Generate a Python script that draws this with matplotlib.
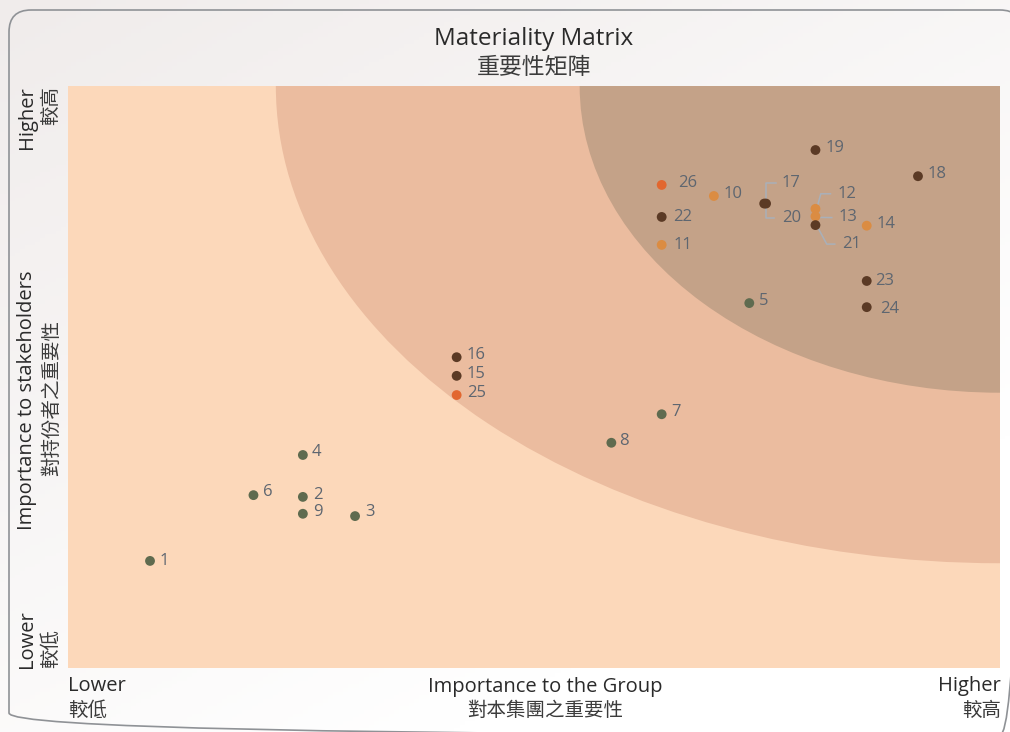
import numpy as np
import matplotlib
matplotlib.use('Agg')
import matplotlib.pyplot as plt
from matplotlib.patches import Ellipse, FancyBboxPatch
from matplotlib.colors import LinearSegmentedColormap

W, H = 1010, 732
EN = ['Open Sans', 'Noto Sans CJK TC']
ZH = ['Noto Sans CJK TC', 'DejaVu Sans']
plt.rcParams['font.family'] = EN

# issues: importance to group (x) / to stakeholders (y), 0-100 scale
issue_ids = [str(i) for i in range(1, 27)]
group_score = [8.8, 25.2, 30.8, 25.2, 73.1, 19.9, 63.7, 58.3, 25.2, 69.3,
               63.7, 80.2, 80.2, 85.7, 41.7, 41.7, 74.7, 91.2, 80.2, 74.9,
               80.2, 63.7, 85.7, 85.7, 41.7, 63.7]
stake_score = [18.4, 29.4, 26.1, 36.6, 62.7, 29.7, 43.6, 38.7, 26.5, 81.1,
               72.7, 78.9, 77.6, 76.0, 50.2, 53.4, 79.8, 84.5, 89.0, 79.8,
               76.1, 77.5, 66.5, 62.0, 46.9, 83.0]
issue_cat = ['E'] * 9 + ['S'] * 5 + ['G'] * 10 + ['O'] * 2
cat_colors = {'E': '#5F6B4F', 'S': '#DB8C42', 'G': '#5B3A25', 'O': '#E2672F'}

# tiers: quarter ellipses anchored at the top-right corner (radii in score units)
tier_radii = [(77.7, 82.0), (45.1, 52.7)]
tier_colors = ['#EBBC9F', '#C4A288']
tier_names = [('Tier 1', '第一層'), ('Tier 2', '第二層'), ('Tier 3', '第三層')]

# label offsets in pixels (right, up); default for all others
label_off = {'26': (16, 2), '24': (13, -2), '11': (12, 0), '22': (11, 0),
             '23': (8, 0), '8': (8, 2), '4': (9, 3), '6': (10, 3), '3': (10, 4),
             '1': (10, 0), '17': (17.5, 20.5), '20': (16, -14.2),
             '12': (22, 15), '13': (23.3, -0.5), '21': (27, -19)}
leaders = {'17': [(11.7, 20.2), (2, 20.2), (2, -14.8), (10, -14.8)],
           '12': [(1, -1), (5.3, 15), (15, 15)],
           '13': [(1, -1), (16.3, -1.2)],
           '21': [(1, 0), (11.3, -19), (19.3, -19)]}

fig = plt.figure(figsize=(W / 100, H / 100), dpi=100)

# background layer in pixel coordinates
bg = fig.add_axes([0, 0, 1, 1], zorder=0)
bg.set_xlim(0, W)
bg.set_ylim(H, 0)
bg.axis('off')
gx, gy = np.meshgrid(np.linspace(0, 1, 200), np.linspace(0, 1, 200))
grad = np.clip(0.55 * gx + 0.75 * gy, 0, 1)
cmap = LinearSegmentedColormap.from_list('bgc', ['#F0ECEB', '#FFFFFF'])
bg.imshow(grad, extent=(0, W, H, 0), cmap=cmap, aspect='auto', zorder=0)
bg.add_patch(FancyBboxPatch((9, 10), 1013, 725, boxstyle='round,pad=0,rounding_size=22',
                            fc='none', ec='#8F9296', lw=1.2, zorder=1))

# main matrix
ax = fig.add_axes([68 / W, (H - 668) / H, 932 / W, 582 / H], zorder=1)
ax.set_xlim(0, 100)
ax.set_ylim(0, 100)
ax.set_facecolor('#FCD8BA')
for s in ax.spines.values():
    s.set_visible(False)
ax.set_xticks([])
ax.set_yticks([])
for (rx, ry), c in zip(tier_radii, tier_colors):
    ax.add_patch(Ellipse((100, 100), 2 * rx, 2 * ry, fc=c, ec='none', zorder=1))

ax.scatter(group_score, stake_score, s=50, c=[cat_colors[k] for k in issue_cat],
           linewidths=0, zorder=3)

to_bg = ax.transData + bg.transData.inverted()
for i, lab in enumerate(issue_ids):
    dx, dy = label_off.get(lab, (10, 2))
    ax.annotate(lab, (group_score[i], stake_score[i]), xytext=(dx, dy),
                textcoords='offset pixels', ha='left', va='center',
                fontsize=12, color='#5E6670', zorder=4)
    if lab in leaders:
        px, py = to_bg.transform((group_score[i], stake_score[i]))
        xs = [px + ox for ox, oy in leaders[lab]]
        ys = [py - oy for ox, oy in leaders[lab]]
        ax.plot(xs, ys, color='#A9B0B9', lw=1.1, transform=bg.transData, zorder=2)

# tier labels
for (en, zh), yc in zip(tier_names, [354, 510, 606]):
    bg.text(934, yc, en, ha='center', va='center', fontsize=10.5, color='#484848',
            family=['Liberation Sans'], zorder=5)
    bg.text(934, yc + 19, zh, ha='center', va='center', fontsize=10, color='#484848',
            family=ZH, fontweight='light', zorder=5)

# titles and axis texts
zkw = dict(color='#3C3C3C', family=ZH, fontweight='light')
bg.text(534, 39, 'Materiality Matrix', ha='center', va='center', fontsize=17.5, color='#2A2A2A')
bg.text(534, 68, '重要性矩陣', ha='center', va='center', fontsize=16.5, **zkw)

bg.text(68, 686, 'Lower', ha='left', va='center', fontsize=14.5, color='#2A2A2A')
bg.text(68, 710, '較低', ha='left', va='center', fontsize=14, **zkw)
bg.text(545, 687, 'Importance to the Group', ha='center', va='center', fontsize=14.5, color='#2A2A2A')
bg.text(545, 710, '對本集團之重要性', ha='center', va='center', fontsize=14, **zkw)
bg.text(1001, 686, 'Higher', ha='right', va='center', fontsize=14.5, color='#2A2A2A')
bg.text(1001, 710, '較高', ha='right', va='center', fontsize=14, **zkw)

bg.text(27, 86, 'Higher', ha='center', va='top', rotation=90, fontsize=14.5, color='#2A2A2A')
bg.text(51, 86, '較高', ha='center', va='top', rotation=90, fontsize=14, **zkw)
bg.text(27, 400, 'Importance to stakeholders', ha='center', va='center', rotation=90,
        fontsize=14.5, color='#2A2A2A')
bg.text(52, 398, '對持份者之重要性', ha='center', va='center', rotation=90,
        fontsize=14, **zkw)
bg.text(27, 668, 'Lower', ha='center', va='bottom', rotation=90, fontsize=14.5, color='#2A2A2A')
bg.text(51, 668, '較低', ha='center', va='bottom', rotation=90, fontsize=14, **zkw)

fig.savefig('out.png', dpi=100)
